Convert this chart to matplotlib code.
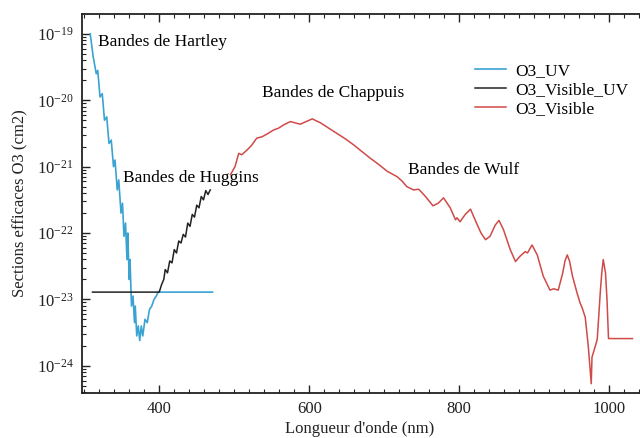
import numpy as np
import matplotlib
matplotlib.use("Agg")
import matplotlib.pyplot as plt
from matplotlib.ticker import MultipleLocator, FixedLocator, NullFormatter

plt.rcParams['font.family'] = ['Liberation Serif', 'DejaVu Serif']
plt.rcParams['mathtext.fontset'] = 'custom'
plt.rcParams['mathtext.rm'] = 'Liberation Serif'
plt.rcParams['mathtext.it'] = 'Liberation Serif:italic'
plt.rcParams['font.size'] = 12

# O3 cross sections (wavelength nm, log10 of cm2)
uv_nm = [308, 312, 316, 318, 321, 324, 327, 330, 333, 336, 339, 341, 344, 346,
         349, 351, 353, 355, 357, 358, 360, 361, 363, 365, 367, 368, 370, 372,
         374, 376, 378, 381, 384, 387, 390, 393, 396, 399, 400, 471]
uv_log = [-19.0, -19.35, -19.6, -19.55, -19.95, -19.9, -20.3, -20.25, -20.65, -20.6,
          -21.0, -20.9, -21.35, -21.2, -21.7, -21.55, -22.05, -21.85, -22.4, -22.0,
          -22.7, -22.4, -23.1, -22.95, -23.35, -23.1, -23.55, -23.4, -23.62, -23.4,
          -23.55, -23.3, -23.35, -23.15, -23.1, -23.0, -22.95, -22.88, -22.89, -22.89]

visuv_nm = [311, 400, 403, 406, 408, 411, 414, 417, 420, 423, 426, 429, 432, 435,
            438, 441, 444, 447, 450, 453, 456, 459, 462, 465, 468]
visuv_log = [-22.89, -22.89, -22.78, -22.7, -22.55, -22.6, -22.42, -22.45, -22.25,
             -22.3, -22.12, -22.15, -22.02, -22.06, -21.85, -21.9, -21.72, -21.76,
             -21.58, -21.62, -21.45, -21.5, -21.36, -21.42, -21.35]

vis_nm = [495, 501, 506, 510, 517, 523, 530, 537, 545, 552, 559, 566, 575, 581,
          588, 596, 604, 615, 626, 637, 648, 659, 670, 681, 693, 704, 717, 724,
          730, 739, 746, 755, 765, 772, 779, 788, 795, 797, 801, 808, 815, 823,
          829, 835, 841, 848, 853, 859, 868, 875, 881, 888, 891, 897, 904, 912,
          921, 926, 932, 938, 941, 944, 947, 951, 957, 961, 964, 968, 972, 976,
          977, 981, 984, 988, 990, 992, 995, 997, 999, 1031]
vis_log = [-21.12, -21.0, -20.8, -20.82, -20.75, -20.68, -20.57, -20.55, -20.5,
           -20.45, -20.42, -20.37, -20.32, -20.34, -20.36, -20.32, -20.28, -20.34,
           -20.42, -20.5, -20.58, -20.67, -20.77, -20.87, -20.97, -21.07, -21.15,
           -21.22, -21.3, -21.35, -21.34, -21.45, -21.59, -21.55, -21.47, -21.62,
           -21.8, -21.77, -21.83, -21.72, -21.64, -21.85, -22.0, -22.1, -22.05,
           -21.88, -21.81, -21.95, -22.25, -22.43, -22.35, -22.28, -22.3, -22.18,
           -22.33, -22.65, -22.86, -22.84, -22.86, -22.6, -22.42, -22.33, -22.42,
           -22.65, -22.9, -23.05, -23.13, -23.27, -23.7, -24.27, -23.87, -23.72,
           -23.6, -22.9, -22.6, -22.4, -22.6, -23.0, -23.59, -23.59]

labels = ['O3_UV', 'O3_Visible_UV', 'O3_Visible']
colors = ['#3aa3d2', '#222222', '#cf4a48']
decades = [-24, -23, -22, -21, -20, -19]

W, H = 640, 438
fig = plt.figure(figsize=(W / 100, H / 100), dpi=100)
ax = fig.add_axes([82 / W, 1 - 393 / H, (640 - 82) / W, (393 - 14) / H])

ax.plot(uv_nm, 10.0 ** np.array(uv_log), color=colors[0], lw=1.2, label=labels[0])
ax.plot(visuv_nm, 10.0 ** np.array(visuv_log), color=colors[1], lw=1.1, label=labels[1])
ax.plot(vis_nm, 10.0 ** np.array(vis_log), color=colors[2], lw=1.1, label=labels[2])

ax.set_yscale('log')
ax.set_xlim(297, 1041)
ax.set_ylim(10 ** -24.41, 10 ** -18.70)

ax.xaxis.set_major_locator(MultipleLocator(200))
ax.xaxis.set_minor_locator(MultipleLocator(20))
ax.yaxis.set_major_locator(FixedLocator([10.0 ** d for d in decades]))
minor_y = [m * 10.0 ** d for d in [-25] + decades for m in range(2, 10)]
minor_y = [v for v in minor_y if 10 ** -24.41 < v < 10 ** -18.70]
ax.yaxis.set_minor_locator(FixedLocator(minor_y))
ax.yaxis.set_minor_formatter(NullFormatter())
ax.set_yticklabels([r'$10^{%d}$' % d for d in decades])

ax.tick_params(which='both', direction='in', top=True, right=False, colors='#222222',
               labelcolor='#222222')
ax.tick_params(which='major', length=6, width=1.0, labelsize=12, pad=6)
ax.tick_params(which='minor', length=3, width=0.8)
ax.spines['right'].set_visible(False)
for s in ['left', 'bottom', 'top']:
    ax.spines[s].set_linewidth(1.3)
    ax.spines[s].set_color('#222222')

ax.set_xlabel("Longueur d'onde (nm)", fontsize=12, color='#222222')
ax.xaxis.set_label_coords((360 - 82) / 558, -0.075)
fig.text(20 / W, 1 - 203.5 / H, 'Sections efficaces O3 (cm2)', rotation=90,
         ha='center', va='center', fontsize=12, color='#222222')

ax.text(319, 10 ** -19.12, 'Bandes de Hartley', ha='left', va='center', fontsize=12.5)
ax.text(537, 10 ** -19.89, 'Bandes de Chappuis', ha='left', va='center', fontsize=12.5)
ax.text(351, 10 ** -21.17, 'Bandes de Huggins', ha='left', va='center', fontsize=12.5)
ax.text(731, 10 ** -21.05, 'Bandes de Wulf', ha='left', va='center', fontsize=12.5)

ax.legend(loc='upper left', bbox_to_anchor=(475 / W, 1 - 63 / H),
          bbox_transform=fig.transFigure, frameon=False, fontsize=12.5,
          borderpad=0, borderaxespad=0, handlelength=1.8, handletextpad=0.5,
          labelspacing=0.15)

fig.savefig('out.png', dpi=100)
